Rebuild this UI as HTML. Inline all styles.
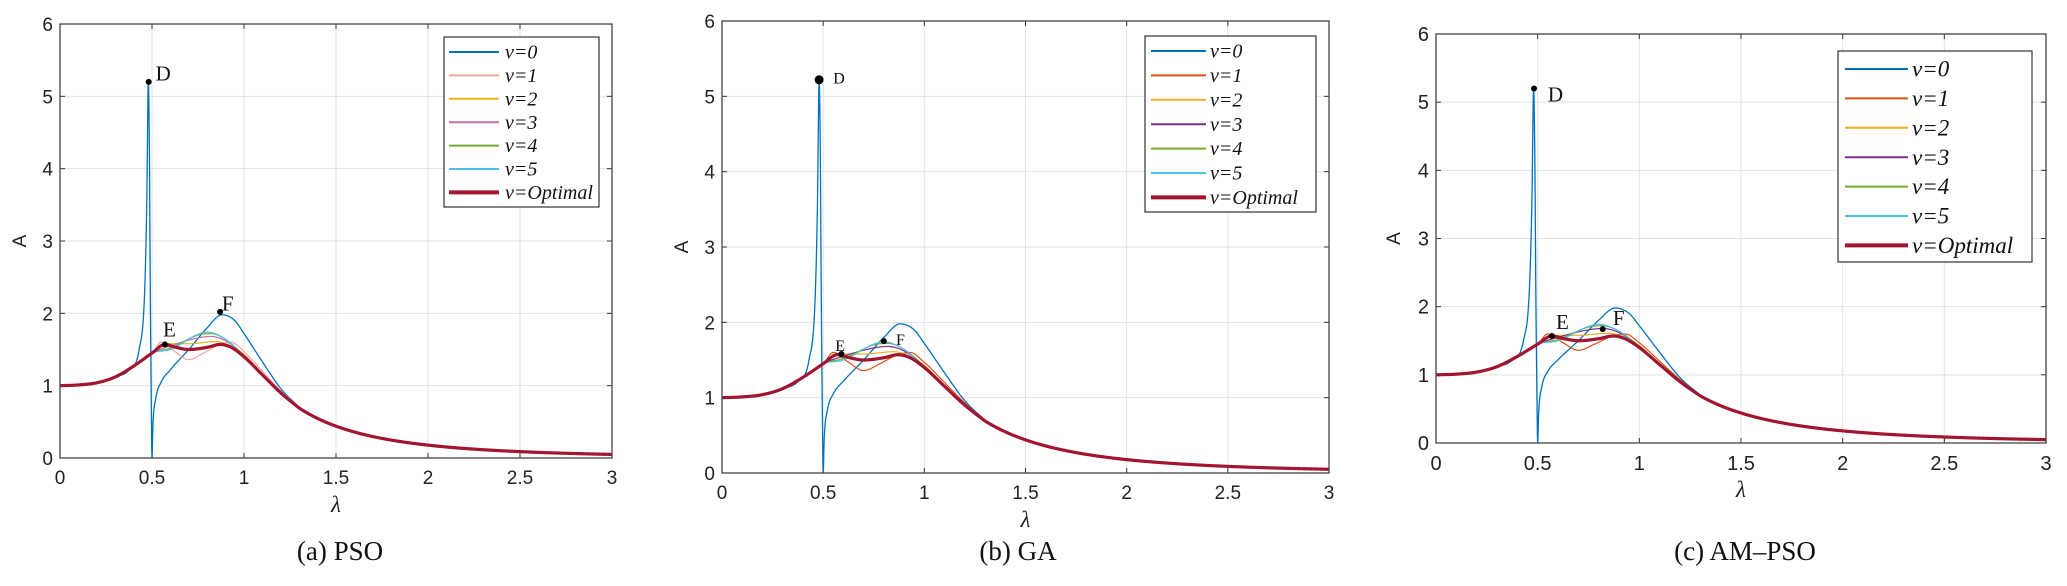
<!DOCTYPE html>
<html><head><meta charset="utf-8"><style>
html,body{margin:0;padding:0;background:#fff;}
svg{display:block;}
</style></head><body>
<svg id="s" width="2067" height="586" xmlns="http://www.w3.org/2000/svg"></svg>
<script>
const S=document.getElementById('s');
const NS='http://www.w3.org/2000/svg';
function el(t,a,txt){const e=document.createElementNS(NS,t);for(const k in a)e.setAttribute(k,a[k]);if(txt!==undefined)e.textContent=txt;S.appendChild(e);return e;}
function mono(pts){
  const n=pts.length,xs=pts.map(p=>p[0]),ys=pts.map(p=>p[1]);
  const d=[],m=[];
  for(let i=0;i<n-1;i++)d.push((ys[i+1]-ys[i])/(xs[i+1]-xs[i]));
  m[0]=d[0];m[n-1]=d[n-2];
  for(let i=1;i<n-1;i++){ if(d[i-1]*d[i]<=0)m[i]=0; else m[i]=(d[i-1]+d[i])/2;}
  for(let i=0;i<n-1;i++){ if(d[i]===0){m[i]=0;m[i+1]=0;continue;} const a=m[i]/d[i],b=m[i+1]/d[i];const h=a*a+b*b; if(h>9){const t=3/Math.sqrt(h);m[i]=t*a*d[i];m[i+1]=t*b*d[i];}}
  return function(x){
    if(x>=1.3) return 0.44*Math.pow(1.5/x,3.15);
    let i=0;while(i<n-2&&x>xs[i+1])i++;
    const h=xs[i+1]-xs[i],t=(x-xs[i])/h,t2=t*t,t3=t2*t;
    return (2*t3-3*t2+1)*ys[i]+(t3-2*t2+t)*h*m[i]+(-2*t3+3*t2)*ys[i+1]+(t3-t2)*h*m[i+1];
  };
}
const base=[[0,1],[0.1,1.01],[0.2,1.04],[0.3,1.12],[0.4,1.27],[0.5,1.45]];
const tail=[[1.1,1.16],[1.2,0.91],[1.3,0.69]];
const curves={
 opt:mono(base.concat([[0.57,1.57],[0.63,1.53],[0.7,1.5],[0.8,1.53],[0.87,1.57],[0.93,1.53],[1.0,1.4],[1.1,1.15],[1.2,0.9],[1.3,0.69]])),
 v0:mono([[0,1],[0.1,1.01],[0.2,1.04],[0.3,1.12],[0.38,1.23],[0.43,1.5],[0.46,2.3],[0.472,3.6],[0.48,5.2],[0.486,4.2],[0.491,2.2],[0.496,0.8],[0.5,0],[0.505,0.45],[0.52,0.82],[0.55,1.05],[0.6,1.22],[0.7,1.5],[0.8,1.8],[0.88,1.98],[0.95,1.9],[1.0,1.72],[1.1,1.33],[1.2,0.96],[1.3,0.7]]),
 v1:mono(base.concat([[0.55,1.6],[0.62,1.48],[0.7,1.36],[0.78,1.45],[0.86,1.56],[0.93,1.6],[1.0,1.47],[1.1,1.2],[1.2,0.93],[1.3,0.7]])),
 v2:mono(base.concat([[0.57,1.58],[0.7,1.58],[0.85,1.61],[0.95,1.52],[1.0,1.43]]).concat(tail)),
 v3:mono(base.concat([[0.6,1.55],[0.75,1.66],[0.82,1.68],[0.9,1.62],[1.0,1.42]]).concat(tail)),
 v4:mono(base.concat([[0.6,1.52],[0.75,1.7],[0.82,1.72],[0.9,1.64],[1.0,1.42]]).concat(tail)),
 v5:mono(base.concat([[0.6,1.5],[0.75,1.71],[0.8,1.74],[0.9,1.64],[1.0,1.4]]).concat(tail))
};
const panels=[
 {L:60,T:24,R:612,B:458,lg:[444,37,599,207],r0:52,rs:23.4,fs:20,l1:449,l2:499,tx:505,
  col:{v0:'#0072BD',v1:'#F2A6A0',v2:'#EDB120',v3:'#C070B0',v4:'#77AC30',v5:'#4DBEEE'},
  D:[0.482,5.2],E:[0.57,1.57],F:[0.87,2.02],Dl:[0.52,5.3,21],El:[0.56,1.76,21],Fl:[0.88,2.12,21],cap:'(a) PSO',cx:340,tfs:19,yl:26},
 {L:722,T:21,R:1329,B:473,lg:[1145,36,1316,212],r0:51,rs:24.4,fs:20,l1:1151,l2:1206,tx:1210,
  col:{v0:'#0072BD',v1:'#D95319',v2:'#EDB120',v3:'#7E2F8E',v4:'#77AC30',v5:'#4DBEEE'},
  D:[0.48,5.22],E:[0.59,1.58],F:[0.8,1.75],Dl:[0.55,5.25,16],El:[0.56,1.7,16],Fl:[0.86,1.78,16],cap:'(b) GA',cx:1018,tfs:19,yl:688},
 {L:1436,T:34,R:2046,B:443,lg:[1838,51,2032,262],r0:69,rs:29.4,fs:23,l1:1845,l2:1908,tx:1912,
  col:{v0:'#0072BD',v1:'#D95319',v2:'#EDB120',v3:'#7E2F8E',v4:'#77AC30',v5:'#4DBEEE'},
  D:[0.482,5.2],E:[0.57,1.57],F:[0.82,1.67],Dl:[0.55,5.1,21],El:[0.59,1.76,21],Fl:[0.87,1.82,21],cap:'(c) AM\u2013PSO',cx:1745,tfs:20,yl:1400}
];
panels.forEach((p,pi)=>{
 const X=x=>p.L+(p.R-p.L)*x/3, Y=y=>p.B-(p.B-p.T)*y/6;
 const cid='c'+pi;
 const cp=el('clipPath',{id:cid});const r=document.createElementNS(NS,'rect');
 r.setAttribute('x',p.L);r.setAttribute('y',p.T);r.setAttribute('width',p.R-p.L);r.setAttribute('height',p.B-p.T);cp.appendChild(r);
 el('rect',{x:p.L,y:p.T,width:p.R-p.L,height:p.B-p.T,fill:'#fff'});
 for(let i=1;i<6;i++){const x=X(i*0.5);el('line',{x1:x,x2:x,y1:p.T,y2:p.B,stroke:'#e3e3e3','stroke-width':1});}
 for(let i=1;i<6;i++){const y=Y(i);el('line',{x1:p.L,x2:p.R,y1:y,y2:y,stroke:'#e3e3e3','stroke-width':1});}
 for(let i=0;i<=6;i++){const x=X(i*0.5);
   el('line',{x1:x,x2:x,y1:p.B,y2:p.B-5,stroke:'#333'});el('line',{x1:x,x2:x,y1:p.T,y2:p.T+5,stroke:'#333'});
   el('text',{x:x,y:p.B+p.tfs+7,'text-anchor':'middle','font-family':'Liberation Sans, sans-serif','font-size':p.tfs,fill:'#222'},String(i*0.5));}
 for(let i=0;i<=6;i++){const y=Y(i);
   el('line',{x1:p.L,x2:p.L+5,y1:y,y2:y,stroke:'#333'});el('line',{x1:p.R,x2:p.R-5,y1:y,y2:y,stroke:'#333'});
   el('text',{x:p.L-7,y:y+7,'text-anchor':'end','font-family':'Liberation Sans, sans-serif','font-size':p.tfs,fill:'#222'},String(i));}
 const g=el('g',{'clip-path':'url(#'+cid+')',fill:'none'});
 function path(f,col,w){let d='';for(let k=0;k<=3000;k++){const x=k*0.001;d+=(k?'L':'M')+X(x).toFixed(2)+','+Y(Math.max(f(x),-0.05)).toFixed(2);}
   const e=document.createElementNS(NS,'path');e.setAttribute('d',d);e.setAttribute('stroke',col);e.setAttribute('stroke-width',w);e.setAttribute('fill','none');g.appendChild(e);}
 path(curves.v0,p.col.v0,1.3);
 ['v1','v2','v3','v4','v5'].forEach(k=>path(curves[k],p.col[k],1.2));
 path(curves.opt,'#A2142F',3.2);
 el('rect',{x:p.L,y:p.T,width:p.R-p.L,height:p.B-p.T,fill:'none',stroke:'#444','stroke-width':1.3});
 [p.D,p.E,p.F].forEach((m,i)=>el('circle',{cx:X(m[0]),cy:Y(m[1]),r:(pi==1&&i==0)?4.5:3,fill:'#000'}));
 [['D',p.Dl],['E',p.El],['F',p.Fl]].forEach(a=>el('text',{x:X(a[1][0]),y:Y(a[1][1])+6,'font-family':'Liberation Serif, serif','font-size':a[1][2],fill:'#111'},a[0]));
 const lg=p.lg;
 el('rect',{x:lg[0],y:lg[1],width:lg[2]-lg[0],height:lg[3]-lg[1],fill:'#fff',stroke:'#333','stroke-width':1.2});
 const labs=['0','1','2','3','4','5','Optimal'],ks=['v0','v1','v2','v3','v4','v5','opt'];
 labs.forEach((t,i)=>{const y=p.r0+i*p.rs;const c=ks[i]=='opt'?'#A2142F':p.col[ks[i]];
   el('line',{x1:p.l1,x2:p.l2,y1:y,y2:y,stroke:c,'stroke-width':ks[i]=='opt'?4:2});
   el('text',{x:p.tx,y:y+p.fs*0.33,'font-family':'Liberation Serif, serif','font-style':'italic','font-size':p.fs,fill:'#111'},'v='+t);});
 el('text',{x:(p.L+p.R)/2,y:p.B+54,'text-anchor':'middle','font-family':'Liberation Serif, serif','font-style':'italic','font-size':23,fill:'#222'},'\u03bb');
 const yc=(p.T+p.B)/2;
 el('text',{x:p.yl,y:yc,'text-anchor':'middle','font-family':'Liberation Sans, sans-serif','font-size':19,fill:'#222',transform:'rotate(-90 '+p.yl+' '+yc+')'},'A');
 el('text',{x:p.cx,y:560,'text-anchor':'middle','font-family':'Liberation Serif, serif','font-size':27,fill:'#111'},p.cap);
});
</script>
</body></html>
